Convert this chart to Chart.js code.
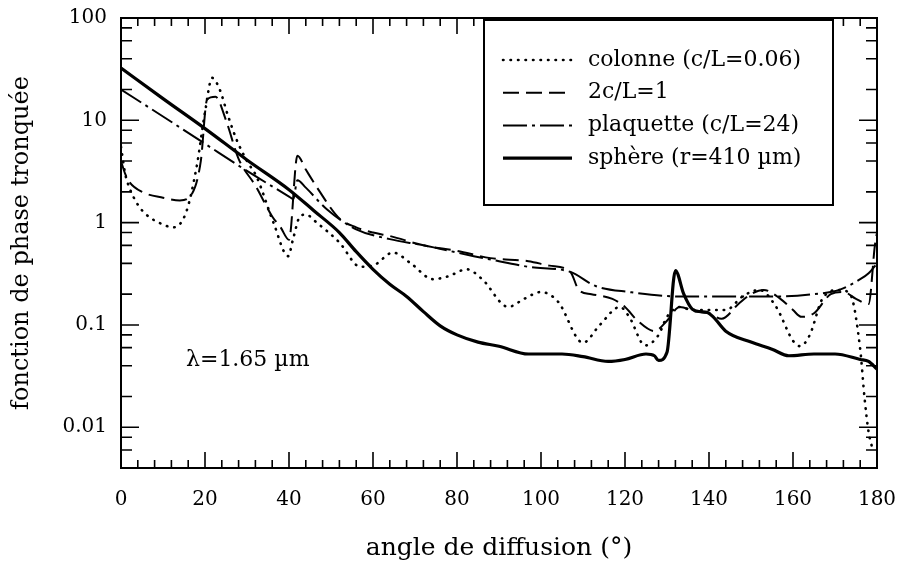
<!DOCTYPE html>
<html>
<head>
<meta charset="utf-8">
<script src="https://cdn.jsdelivr.net/npm/chart.js@4.4.0/dist/chart.umd.min.js"></script>
<style>
  html, body { margin: 0; background: #fff; }
</style>
</head>
<body>
<canvas id="phaseGraph" width="900" height="571"></canvas>
<script>
// colonne (c/L=0.06)
const colonneAngle = [0, 1, 2, 4, 6, 9, 12.5, 15.5, 18, 20, 21.7, 23.5, 25.5, 27.5, 30, 32.3, 36.3, 39.8, 41, 42.6, 44, 46.6, 52, 57, 60, 64.8, 69, 74.3, 78, 82.3, 86, 92.2, 96, 100, 104, 110, 114, 118.8, 121, 124.8, 128, 130, 133, 136, 140, 144, 148, 152, 156, 160, 161.7, 164, 167, 171, 173.6, 176, 177, 178, 179];
const colonneVal = [5.5, 3, 2.2, 1.5, 1.2, 1.0, 0.9, 1.26, 3.5, 12, 26, 20, 11, 6.5, 4, 2.8, 1.0, 0.47, 0.7, 1.15, 1.2, 1.0, 0.64, 0.37, 0.38, 0.51, 0.4, 0.28, 0.3, 0.35, 0.28, 0.15, 0.18, 0.21, 0.17, 0.067, 0.1, 0.15, 0.12, 0.063, 0.08, 0.12, 0.15, 0.14, 0.14, 0.14, 0.19, 0.22, 0.15, 0.07, 0.062, 0.08, 0.18, 0.22, 0.2, 0.058, 0.02, 0.009, 0.006];

// 2c/L=1
const cubeAngle = [0, 1, 2, 5, 10, 14, 17, 19, 20.5, 22.5, 25, 28, 32, 36, 38, 40, 42, 44, 47, 52, 56, 60, 64, 72, 80, 88, 97, 102, 107, 109, 112, 117, 120, 123, 127, 130, 133, 137, 140, 143, 147, 150, 153, 157, 160, 162, 165, 169, 172, 175, 178, 179.5, 180];
const cubeVal = [4.0, 3.0, 2.5, 2.0, 1.75, 1.65, 1.95, 4, 16, 17, 10, 4.2, 2.3, 1.15, 0.9, 0.68, 4.5, 3.3, 2.1, 1.1, 0.9, 0.8, 0.74, 0.6, 0.53, 0.45, 0.42, 0.38, 0.33, 0.22, 0.2, 0.18, 0.15, 0.11, 0.087, 0.11, 0.15, 0.135, 0.13, 0.115, 0.16, 0.2, 0.22, 0.18, 0.14, 0.12, 0.13, 0.2, 0.21, 0.18, 0.16, 0.6, 0.8];

// plaquette (c/L=24)
const plaqAngle = [0, 10, 20, 30, 40, 41, 42, 44, 49, 56, 64, 72, 84, 90, 97, 107, 113, 121, 133, 145, 157, 165, 171, 176, 178, 180];
const plaqVal = [20, 10.9, 5.9, 3.2, 1.8, 1.7, 2.6, 2.2, 1.35, 0.86, 0.69, 0.6, 0.47, 0.42, 0.37, 0.33, 0.24, 0.21, 0.19, 0.19, 0.19, 0.2, 0.22, 0.28, 0.32, 0.4];

// sphère (r=410 µm)
const sphAngle = [0, 10, 20, 30, 40, 46, 52, 56, 60, 64, 68, 72, 76, 80, 85, 90, 97, 105, 110, 116, 120, 125, 127, 128, 130, 132, 134, 136, 138, 139.5, 141, 144, 150, 155, 159, 165, 170, 176, 178, 180];
const sphVal = [32.5, 16.3, 8.3, 4.1, 2.1, 1.3, 0.8, 0.52, 0.35, 0.25, 0.19, 0.135, 0.098, 0.08, 0.068, 0.062, 0.052, 0.052, 0.049, 0.044, 0.046, 0.052, 0.05, 0.045, 0.054, 0.34, 0.2, 0.143, 0.135, 0.133, 0.12, 0.087, 0.068, 0.058, 0.05, 0.052, 0.052, 0.046, 0.044, 0.037];

const yTickValues = [0.01, 0.1, 1, 10, 100];
const labels = ['colonne (c/L=0.06)', '2c/L=1', 'plaquette (c/L=24)', 'sphère (r=410 µm)'];

const serif = '"DejaVu Serif", serif';
const pts = (xs, ys) => xs.map((a, i) => ({ x: a, y: ys[i] }));

function line(label, xs, ys, width, dash, cap) {
  return {
    label: label,
    data: pts(xs, ys),
    borderColor: '#000',
    borderWidth: width,
    borderDash: dash,
    borderCapStyle: cap || 'butt',
    pointRadius: 0,
    fill: false,
    cubicInterpolationMode: 'monotone'
  };
}

// frame, inward ticks on all four sides, legend box and wavelength note
const framePlugin = {
  id: 'framePlugin',
  afterDraw(chart) {
    const { ctx, chartArea: a, scales: { x, y } } = chart;
    ctx.save();
    ctx.strokeStyle = '#000';
    ctx.lineWidth = 2;
    ctx.setLineDash([]);
    ctx.strokeRect(a.left, a.top, a.right - a.left, a.bottom - a.top);

    ctx.lineWidth = 1.6;
    ctx.beginPath();
    for (let d = 0; d <= 180; d += 4) {
      const px = x.getPixelForValue(d);
      const len = d % 20 === 0 ? 16 : 8;
      ctx.moveTo(px, a.bottom); ctx.lineTo(px, a.bottom - len);
      ctx.moveTo(px, a.top); ctx.lineTo(px, a.top + len);
    }
    for (let e = -3; e <= 2; e++) {
      for (const m of [1, 2, 4, 6, 8]) {
        const v = m * Math.pow(10, e);
        if (v < y.min || v > y.max) continue;
        const py = y.getPixelForValue(v);
        const len = m === 1 ? 18 : 11;
        ctx.moveTo(a.left, py); ctx.lineTo(a.left + len, py);
        ctx.moveTo(a.right, py); ctx.lineTo(a.right - len, py);
      }
    }
    ctx.stroke();

    // legend
    const box = { l: 484, t: 20, w: 349, h: 185 };
    ctx.fillStyle = '#fff';
    ctx.fillRect(box.l, box.t, box.w, box.h);
    ctx.lineWidth = 2;
    ctx.strokeRect(box.l, box.t, box.w, box.h);
    ctx.font = '22px ' + serif;
    ctx.textBaseline = 'middle';
    ctx.textAlign = 'left';
    chart.data.datasets.forEach((ds, i) => {
      const ly = 60 + i * 32.7;
      ctx.beginPath();
      ctx.lineWidth = ds.borderWidth;
      ctx.lineCap = ds.borderCapStyle;
      ctx.setLineDash(ds.borderDash);
      ctx.moveTo(503, ly); ctx.lineTo(572, ly);
      ctx.stroke();
      ctx.setLineDash([]);
      ctx.fillStyle = '#000';
      ctx.fillText(ds.label, 588, ly);
    });

    ctx.font = '22px ' + serif;
    ctx.fillText('λ=1.65 µm', 186, 360);
    ctx.restore();
  }
};

const ctxPhase = document.getElementById('phaseGraph');

new Chart(ctxPhase, {
  type: 'line',
  data: {
    datasets: [
      line(labels[0], colonneAngle, colonneVal, 2.6, [0.5, 7], 'round'),
      line(labels[1], cubeAngle, cubeVal, 2, [16, 7]),
      line(labels[2], plaqAngle, plaqVal, 2, [24, 5, 3, 5]),
      line(labels[3], sphAngle, sphVal, 3.2, [])
    ]
  },
  options: {
    responsive: false,
    animation: false,
    devicePixelRatio: 1,
    layout: { padding: { top: 18, right: 23, left: 0, bottom: 0 } },
    plugins: {
      legend: { display: false },
      tooltip: { enabled: false }
    },
    scales: {
      x: {
        type: 'linear',
        min: 0,
        max: 180,
        grid: { display: false, drawTicks: false },
        border: { display: false },
        ticks: { stepSize: 20, color: '#000', font: { family: serif, size: 20 }, padding: 20, maxRotation: 0 },
        title: { display: true, text: 'angle de diffusion (°)', color: '#000', font: { family: serif, size: 25 }, padding: { top: 0, bottom: 8 } },
        afterFit(scale) { scale.height = 103; scale.paddingLeft = 0; scale.paddingRight = 0; }
      },
      y: {
        type: 'logarithmic',
        min: 0.004,
        max: 100,
        grid: { display: false, drawTicks: false },
        border: { display: false },
        afterBuildTicks(scale) { scale.ticks = yTickValues.map(v => ({ value: v })); },
        ticks: { color: '#000', font: { family: serif, size: 20 }, padding: 14, callback: (v) => String(v) },
        title: { display: true, text: 'fonction de phase tronquée', color: '#000', font: { family: serif, size: 24 }, padding: { top: 7, bottom: 0 } },
        afterFit(scale) { scale.width = 121; scale.paddingTop = 0; scale.paddingBottom = 0; }
      }
    }
  },
  plugins: [framePlugin]
});
</script>
</body>
</html>
